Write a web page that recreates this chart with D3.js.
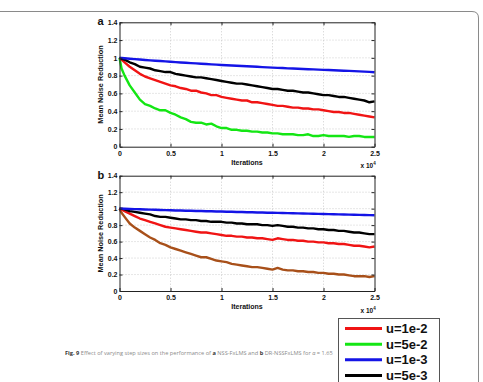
<!DOCTYPE html>
<html><head><meta charset="utf-8">
<script src="https://cdn.jsdelivr.net/npm/d3@7"></script>
<style>
html,body{margin:0;padding:0;background:#fff;}
svg{display:block;font-family:Arial,"Liberation Sans",Helvetica,sans-serif;}
</style></head><body>
<svg id="chart" width="483" height="382"></svg>
<script>
// ---------- data ----------
const iterations = [0,0.02,0.05,
  0.1,0.15,0.2,0.25,0.3,0.35,0.4,0.45,0.5,0.55,
  0.6,0.65,0.7,0.75,0.8,0.85,0.9,0.95,1.0,1.05,
  1.1,1.15,1.2,1.25,1.3,1.35,1.4,1.45,1.5,1.55,
  1.6,1.65,1.7,1.75,1.8,1.85,1.9,1.95,2.0,2.05,
  2.1,2.15,2.2,2.25,2.3,2.35,2.4,2.45,2.5];

// panel a (NSS-FxLMS)
const aRed = [1.00,0.98,0.95,
  0.90,0.86,0.82,0.79,0.77,0.75,0.73,0.71,0.69,0.68,
  0.66,0.65,0.63,0.63,0.61,0.60,0.58,0.58,0.56,0.55,
  0.54,0.53,0.52,0.52,0.50,0.50,0.49,0.48,0.47,0.46,
  0.46,0.45,0.44,0.44,0.43,0.43,0.42,0.42,0.41,0.40,
  0.39,0.39,0.38,0.38,0.37,0.36,0.35,0.34,0.33];
const aGreen = [1.00,0.88,0.80,
  0.69,0.61,0.53,0.48,0.46,0.43,0.41,0.41,0.38,0.36,
  0.33,0.31,0.28,0.27,0.27,0.25,0.26,0.23,0.21,0.21,
  0.19,0.19,0.18,0.18,0.17,0.17,0.16,0.16,0.15,0.15,
  0.14,0.14,0.14,0.13,0.13,0.14,0.12,0.12,0.13,0.12,
  0.12,0.12,0.12,0.11,0.12,0.12,0.11,0.11,0.11];
const aBlue = [1.000,0.998,0.995,
  0.990,0.985,0.981,0.976,0.972,0.968,0.964,0.960,0.956,0.952,
  0.948,0.945,0.941,0.938,0.934,0.930,0.927,0.924,0.920,0.917,
  0.914,0.911,0.908,0.905,0.902,0.899,0.896,0.893,0.890,0.887,
  0.885,0.882,0.880,0.877,0.875,0.872,0.870,0.867,0.865,0.863,
  0.860,0.858,0.855,0.853,0.850,0.848,0.845,0.842,0.838];
const aBlack = [1.00,0.99,0.98,
  0.95,0.93,0.90,0.89,0.88,0.86,0.85,0.84,0.84,0.82,
  0.81,0.80,0.79,0.78,0.78,0.77,0.76,0.75,0.74,0.73,
  0.72,0.71,0.71,0.70,0.69,0.68,0.67,0.66,0.65,0.65,
  0.64,0.63,0.63,0.62,0.61,0.61,0.60,0.59,0.58,0.58,
  0.57,0.56,0.56,0.55,0.54,0.53,0.52,0.50,0.51];

// panel b (DR-NSSFxLMS)
const bRed = [1.00,0.99,0.97,
  0.94,0.91,0.88,0.86,0.84,0.82,0.80,0.78,0.77,0.76,
  0.75,0.74,0.73,0.72,0.71,0.71,0.70,0.69,0.68,0.67,
  0.67,0.66,0.66,0.65,0.65,0.64,0.64,0.63,0.62,0.64,
  0.63,0.62,0.62,0.61,0.61,0.60,0.60,0.59,0.59,0.58,
  0.58,0.57,0.57,0.56,0.55,0.55,0.54,0.53,0.54];
const bBrown = [1.00,0.95,0.90,
  0.82,0.77,0.73,0.69,0.65,0.62,0.58,0.56,0.53,0.51,
  0.49,0.47,0.45,0.43,0.41,0.41,0.39,0.37,0.36,0.35,
  0.33,0.32,0.31,0.30,0.29,0.29,0.28,0.27,0.26,0.28,
  0.26,0.25,0.25,0.24,0.24,0.23,0.23,0.22,0.22,0.21,
  0.21,0.20,0.20,0.19,0.18,0.18,0.18,0.17,0.18];
const bBlue = [1.000,0.999,0.998,
  0.996,0.994,0.992,0.990,0.988,0.986,0.984,0.982,0.980,0.978,
  0.977,0.975,0.974,0.972,0.971,0.969,0.968,0.966,0.965,0.963,
  0.962,0.960,0.959,0.957,0.956,0.954,0.953,0.951,0.950,0.948,
  0.947,0.945,0.944,0.942,0.941,0.939,0.938,0.936,0.935,0.933,
  0.932,0.930,0.929,0.927,0.926,0.924,0.923,0.921,0.920];
const bBlack = [1.00,1.00,0.99,
  0.97,0.96,0.95,0.94,0.93,0.91,0.90,0.90,0.89,0.88,
  0.87,0.87,0.86,0.86,0.85,0.85,0.84,0.84,0.84,0.83,
  0.83,0.82,0.82,0.81,0.81,0.81,0.80,0.80,0.79,0.80,
  0.79,0.78,0.78,0.77,0.77,0.76,0.76,0.75,0.75,0.74,
  0.74,0.73,0.73,0.72,0.71,0.71,0.70,0.69,0.69];

const xTicks = [0,0.5,1,1.5,2,2.5];
const xTickLabels = ["0","0.5","1","1.5","2","2.5"];
const yTicks = [0,0.2,0.4,0.6,0.8,1,1.2,1.4];
const yTickLabels = ["0","0.2","0.4","0.6","0.8","1","1.2","1.4"];
const legendLabels = ["u=1e-2","u=5e-2","u=1e-3","u=5e-3"];
const yLabel = "Mean Noise Reduction";
const xLabel = "Iterations";

// ---------- drawing ----------
const COL = {red:"#f01414", green:"#14e614", blue:"#1414e6", black:"#000000", brown:"#a8501a"};
const svg = d3.select("#chart");

// outer frame
svg.append("path")
  .attr("d","M0,11.5 H472 Q478.5,11.5 478.5,18 V382")
  .attr("fill","none").attr("stroke","#8a8a8a").attr("stroke-width",1);

function panel(top, bottom, letter, series){
  const left = 119.5, right = 374.5;
  const x = d3.scaleLinear().domain([0,2.5]).range([left,right]);
  const y = d3.scaleLinear().domain([0,1.4]).range([bottom,top]);
  const g = svg.append("g");
  // grid
  g.selectAll(".gx").data(xTicks.slice(1,-1)).join("line")
    .attr("x1",d=>x(d)).attr("x2",d=>x(d)).attr("y1",top).attr("y2",bottom)
    .attr("stroke","#b8b8b8").attr("stroke-width",0.7).attr("stroke-dasharray","1,2");
  g.selectAll(".gy").data(yTicks.slice(1,-1)).join("line")
    .attr("y1",d=>y(d)).attr("y2",d=>y(d)).attr("x1",left).attr("x2",right)
    .attr("stroke","#b8b8b8").attr("stroke-width",0.7).attr("stroke-dasharray","1,2");
  // lines
  const line = d3.line().x((d,i)=>x(iterations[i])).y(d=>y(d));
  series.forEach(s=>{
    g.append("path").datum(s.v).attr("d",line)
      .attr("fill","none").attr("stroke",s.c).attr("stroke-width",2.4)
      .attr("stroke-linejoin","round");
  });
  // axes (MATLAB style, inward ticks on all sides)
  const ax = (gen, tr) => g.append("g").attr("transform",tr).call(gen);
  const style = sel => {
    sel.select(".domain").attr("stroke","#222").attr("stroke-width",1);
    sel.selectAll(".tick line").attr("stroke","#222");
    sel.selectAll("text").attr("font-size",7).attr("font-weight","bold").attr("fill","#111");
  };
  const bx = ax(d3.axisBottom(x).tickValues(xTicks).tickFormat((d,i)=>xTickLabels[i]).tickSizeInner(-3).tickSizeOuter(0).tickPadding(4), `translate(0,${bottom})`);
  style(bx);
  const tx = ax(d3.axisTop(x).tickValues(xTicks).tickFormat("").tickSizeInner(-3).tickSizeOuter(0), `translate(0,${top})`);
  style(tx);
  const ly = ax(d3.axisLeft(y).tickValues(yTicks).tickFormat((d,i)=>yTickLabels[i]).tickSizeInner(-3).tickSizeOuter(0).tickPadding(2), `translate(${left},0)`);
  style(ly);
  const ry = ax(d3.axisRight(y).tickValues(yTicks).tickFormat("").tickSizeInner(-3).tickSizeOuter(0), `translate(${right},0)`);
  style(ry);
  // labels
  g.append("text").attr("x",(left+right)/2).attr("y",bottom+18).attr("text-anchor","middle")
    .attr("font-size",7).attr("font-weight","bold").attr("fill","#111").text(xLabel);
  const ex = g.append("text").attr("x",right-14).attr("y",bottom+21.5)
    .attr("font-size",6.5).attr("font-weight","bold").attr("fill","#111");
  ex.append("tspan").text("x 10");
  ex.append("tspan").attr("font-size",4.5).attr("dy",-3).text("4");
  g.append("text").attr("transform",`translate(102.5,${(top+bottom)/2}) rotate(-90)`)
    .attr("text-anchor","middle").attr("font-size",7.3).attr("font-weight","bold").attr("fill","#111").text(yLabel);
  g.append("text").attr("x",97.5).attr("y",top+3).attr("font-size",11).attr("font-weight","bold").attr("fill","#111").text(letter);
}

panel(22.3, 146.7, "a", [
  {v:aGreen,c:COL.green},{v:aRed,c:COL.red},{v:aBlack,c:COL.black},{v:aBlue,c:COL.blue}]);
panel(175.7, 291, "b", [
  {v:bBrown,c:COL.brown},{v:bRed,c:COL.red},{v:bBlack,c:COL.black},{v:bBlue,c:COL.blue}]);

// legend
const lg = svg.append("g");
lg.append("rect").attr("x",338.5).attr("y",318.5).attr("width",101).attr("height",80)
  .attr("fill","#fff").attr("stroke","#555").attr("stroke-width",1);
const legCols = [COL.red, COL.green, COL.blue, COL.black];
const ly0 = d3.scaleLinear().domain([0,3]).range([328.5,375.5]);
legendLabels.forEach((t,i)=>{
  lg.append("line").attr("x1",345).attr("x2",382).attr("y1",ly0(i)).attr("y2",ly0(i))
    .attr("stroke",legCols[i]).attr("stroke-width",3);
  lg.append("text").attr("x",386).attr("y",ly0(i)+4.5).attr("font-size",13).attr("font-weight","bold")
    .attr("fill","#111").text(t);
});

// caption
const cap = svg.append("text").attr("x",65).attr("y",355).attr("font-size",5.8)
  .attr("font-family","'Open Sans','Noto Sans',sans-serif").attr("fill","#8a8a8a");
cap.append("tspan").attr("font-weight","bold").attr("fill","#333").text("Fig. 9");
cap.append("tspan").text(" Effect of varying step sizes on the performance of ");
cap.append("tspan").attr("font-weight","bold").attr("fill","#333").text("a");
cap.append("tspan").text(" NSS-FxLMS and ");
cap.append("tspan").attr("font-weight","bold").attr("fill","#333").text("b");
cap.append("tspan").text(" DR-NSSFxLMS for ");
cap.append("tspan").attr("font-style","italic").text("α");
cap.append("tspan").text(" = 1.65");
const w = cap.node().getComputedTextLength();
if (w > 0) cap.attr("font-size", 5.8 * 268 / w);
</script>
</body></html>
